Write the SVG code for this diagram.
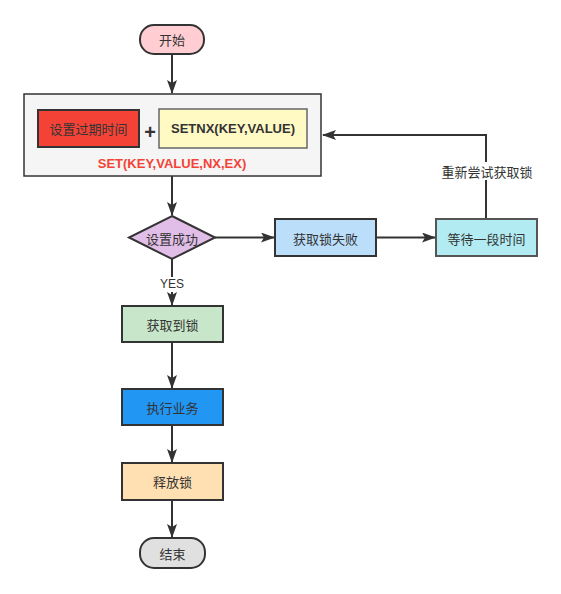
<svg xmlns="http://www.w3.org/2000/svg" width="561" height="594" viewBox="0 0 561 594">
<defs>
<marker id="arr" markerWidth="14" markerHeight="10" refX="13" refY="5" orient="auto" markerUnits="userSpaceOnUse" viewBox="0 0 14 10">
<path d="M0,0 L14,5 L0,10 L3,5 Z" fill="#333"/>
</marker>
<style>
.n{stroke:#333;stroke-width:2}
.t{font-family:"Noto Sans CJK SC","Liberation Sans",sans-serif;font-size:13px;fill:#333;text-anchor:middle;dominant-baseline:central}
.b{font-family:"Liberation Sans","Noto Sans CJK SC",sans-serif;font-size:13px;font-weight:bold;text-anchor:middle;dominant-baseline:central}
.c{fill:none;stroke:#333;stroke-width:2}
</style>
</defs>
<rect width="561" height="594" fill="#fff"/>
<g id="connectors">
<path class="c" d="M172,54 V93" marker-end="url(#arr)"/>
<path class="c" d="M172,176 V215" marker-end="url(#arr)"/>
<path class="c" d="M215,237.5 H274" marker-end="url(#arr)"/>
<path class="c" d="M376,237.5 H435" marker-end="url(#arr)"/>
<path class="c" d="M486,219 V135 H323" marker-end="url(#arr)"/>
<path class="c" d="M172,259 V305" marker-end="url(#arr)"/>
<path class="c" d="M172,342 V388" marker-end="url(#arr)"/>
<path class="c" d="M172,425 V462" marker-end="url(#arr)"/>
<path class="c" d="M172,500 V537" marker-end="url(#arr)"/>
<rect x="440" y="162" width="94" height="18" fill="#fff"/>
<text class="t" x="487" y="171">重新尝试获取锁</text>
<rect x="158" y="277" width="28" height="15" fill="#fff"/>
<text class="t" x="172" y="284" style="font-family:'Liberation Sans',sans-serif;font-size:12px">YES</text>
</g>
<g id="start">
<rect class="n" x="140" y="25" width="64" height="29" rx="14" fill="#FFCDD2"/>
<text class="t" x="172" y="39.5">开始</text>
</g>
<g id="set">
<rect x="24" y="94" width="297" height="82" fill="#F5F5F5" stroke="#333" stroke-width="1.5"/>
<text class="b" x="172" y="163" fill="#F44336">SET(KEY,VALUE,NX,EX)</text>
</g>
<g id="expire">
<rect class="n" x="38" y="110" width="101" height="37" fill="#F44336"/>
<text class="t" x="88.5" y="128.5">设置过期时间</text>
</g>
<g id="plus">
<text class="b" x="150" y="132" fill="#333" style="font-size:20px">+</text>
</g>
<g id="setnx">
<rect x="159" y="109" width="148" height="39" fill="#FFF9C4" stroke="#666" stroke-width="1.5"/>
<text class="b" x="233" y="128.5" fill="#333">SETNX(KEY,VALUE)</text>
</g>
<g id="decision">
<polygon class="n" points="172,216 215,237.5 172,259 129,237.5" fill="#E1BEE7"/>
<text class="t" x="172" y="238">设置成功</text>
</g>
<g id="fail">
<rect class="n" x="275" y="219" width="101" height="37" fill="#BBDEFB"/>
<text class="t" x="325.5" y="238">获取锁失败</text>
</g>
<g id="wait">
<rect x="436" y="219" width="101" height="37" fill="#B2EBF2" stroke="#555" stroke-width="2"/>
<text class="t" x="486.5" y="238">等待一段时间</text>
</g>
<g id="got">
<rect class="n" x="122" y="306" width="101" height="36" fill="#C8E6C9"/>
<text class="t" x="172.5" y="324">获取到锁</text>
</g>
<g id="exec">
<rect class="n" x="122" y="389" width="101" height="36" fill="#2196F3"/>
<text class="t" x="172.5" y="407">执行业务</text>
</g>
<g id="release">
<rect class="n" x="122" y="463" width="101" height="37" fill="#FFE0B2"/>
<text class="t" x="172.5" y="481.5">释放锁</text>
</g>
<g id="end">
<rect class="n" x="140" y="538" width="65" height="30" rx="14" fill="#E0E0E0"/>
<text class="t" x="172.5" y="553">结束</text>
</g>
</svg>
